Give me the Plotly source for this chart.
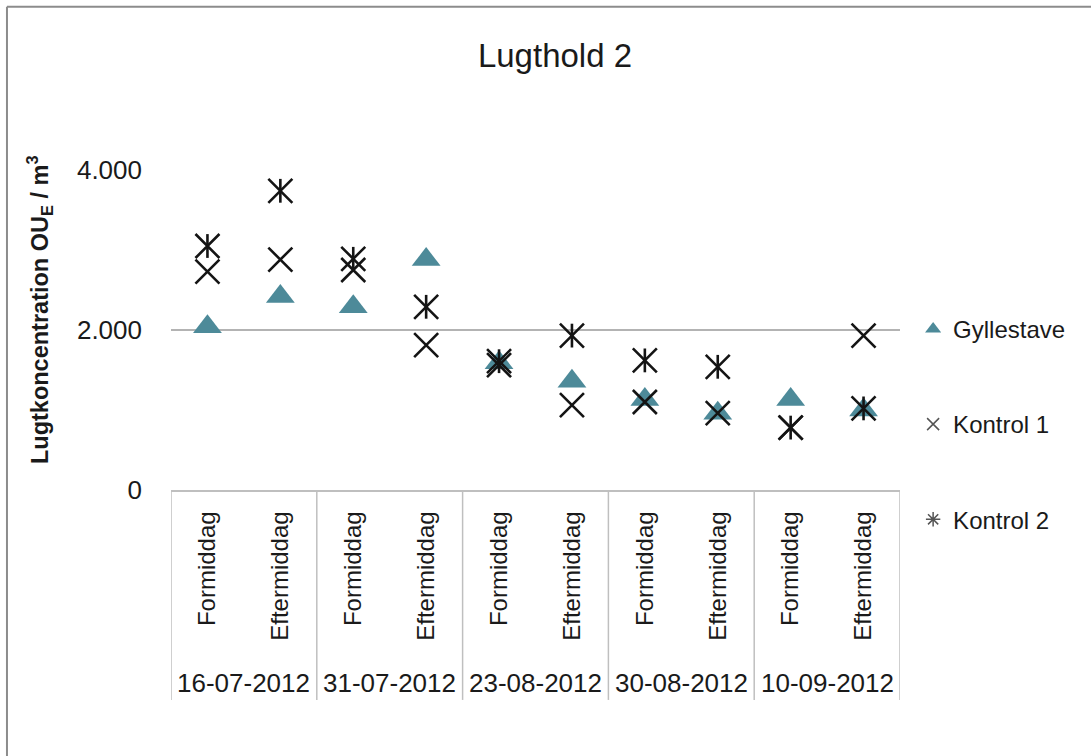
import plotly.graph_objects as go

# ---- data ----
dates = ["16-07-2012", "31-07-2012", "23-08-2012", "30-08-2012", "10-09-2012"]
periods = ["Formiddag", "Eftermiddag"] * 5
gyllestave = [2040, 2420, 2290, 2880, 1590, 1360, 1130, 960, 1130, 1000]
kontrol1 = [2730, 2880, 2750, 1810, 1560, 1060, 1100, 960, 780, 1930]
kontrol2 = [3050, 3740, 2890, 2290, 1610, 1930, 1620, 1540, 780, 1020]
y_ticks = [0, 2000, 4000]
y_tick_labels = ["0", "2.000", "4.000"]

FONT = "Liberation Sans, Arial, sans-serif"
TXT = "#1a1a1a"
TEAL = "#4d8a99"
INK = "#141414"

x_idx = list(range(len(periods)))
per_group = len(periods) // len(dates)

fig = go.Figure()

# data traces
fig.add_trace(go.Scatter(x=x_idx, y=gyllestave, mode="markers", showlegend=False,
                         marker=dict(symbol="triangle-up", size=25, color=TEAL)))
fig.add_trace(go.Scatter(x=x_idx, y=kontrol1, mode="markers", showlegend=False,
                         marker=dict(symbol="x-thin-open", size=24, color=INK,
                                     line=dict(color=INK, width=2.6))))
fig.add_trace(go.Scatter(x=x_idx, y=kontrol2, mode="markers", showlegend=False,
                         marker=dict(symbol="x-thin-open", size=24, color=INK,
                                     line=dict(color=INK, width=2.6))))
fig.add_trace(go.Scatter(x=x_idx, y=kontrol2, mode="markers", showlegend=False,
                         marker=dict(symbol="line-ns-open", size=17, color=INK,
                                     line=dict(color=INK, width=2.6))))

# legend entries
fig.add_trace(go.Scatter(x=[None], y=[None], mode="markers", name="Gyllestave",
                         legendgroup="a",
                         marker=dict(symbol="triangle-up", size=14, color=TEAL)))
fig.add_trace(go.Scatter(x=[None], y=[None], mode="markers", name="Kontrol 1",
                         legendgroup="b",
                         marker=dict(symbol="x-thin-open", size=12, color="#555555",
                                     line=dict(color="#555555", width=1.5))))
fig.add_trace(go.Scatter(x=[None], y=[None], mode="markers", name="Kontrol 2",
                         legendgroup="c",
                         marker=dict(symbol="asterisk-open", size=12, color="#555555",
                                     line=dict(color="#555555", width=1.5))))

# group labels and dividers
shapes = []
annotations = []
for g, d in enumerate(dates):
    annotations.append(dict(x=g * per_group + (per_group - 1) / 2, y=-0.603,
                            xref="x", yref="paper", text=d, showarrow=False,
                            font=dict(family=FONT, size=26, color=TXT),
                            xanchor="center", yanchor="middle"))
for b in range(len(dates) + 1):
    xb = b * per_group - 0.5
    shapes.append(dict(type="line", xref="x", yref="paper", x0=xb, x1=xb,
                       y0=0, y1=-0.656, line=dict(color="#bfbfbf", width=1.5)))

# outer chart border (top and left visible)
shapes.append(dict(type="line", xref="paper", yref="paper", x0=-0.225, x1=1.5,
                   y0=1.51, y1=1.51, line=dict(color="#8c8c8c", width=2)))
shapes.append(dict(type="line", xref="paper", yref="paper", x0=-0.225, x1=-0.225,
                   y0=1.51, y1=-1.0, line=dict(color="#8c8c8c", width=2)))

annotations.append(dict(x=-0.181, y=0.5625, xref="paper", yref="paper",
                        text="<b>Lugtkoncentration OU<sub>E</sub> / m<sup>3</sup></b>",
                        textangle=-90, showarrow=False,
                        font=dict(family=FONT, size=23.5, color=TXT),
                        xanchor="center", yanchor="middle"))

fig.update_layout(
    width=1091, height=756,
    margin=dict(l=171, r=191, t=170, b=266),
    paper_bgcolor="white", plot_bgcolor="white",
    font=dict(family=FONT, color=TXT),
    title=dict(text="Lugthold 2", x=0.5087, y=0.926, xref="container", yref="container",
               xanchor="center", yanchor="middle",
               font=dict(family=FONT, size=33, color=TXT)),
    xaxis=dict(range=[-0.5, len(periods) - 0.5], tickvals=x_idx, ticktext=periods,
               tickangle=-90, showgrid=False, zeroline=False, showline=True,
               linecolor="#bfbfbf", linewidth=1.5, ticks="",
               ticklabelstandoff=10,
               tickfont=dict(family=FONT, size=24, color=TXT)),
    yaxis=dict(range=[0, 4000], tickvals=y_ticks, ticktext=y_tick_labels,
               showgrid=True, gridcolor="#b3b3b3", gridwidth=1.5,
               zeroline=False, showline=False, ticks="",
               ticklabelstandoff=28,
               tickfont=dict(family=FONT, size=26, color=TXT)),
    legend=dict(x=1.018, y=0.5725, xanchor="left", yanchor="top",
                traceorder="grouped", tracegroupgap=61,
                font=dict(family=FONT, size=24, color=TXT),
                bgcolor="rgba(0,0,0,0)"),
    shapes=shapes, annotations=annotations,
)

fig.write_html("out.html", config={"displayModeBar": False},
               post_script="document.body.style.margin='0';document.body.style.overflow='hidden';")
